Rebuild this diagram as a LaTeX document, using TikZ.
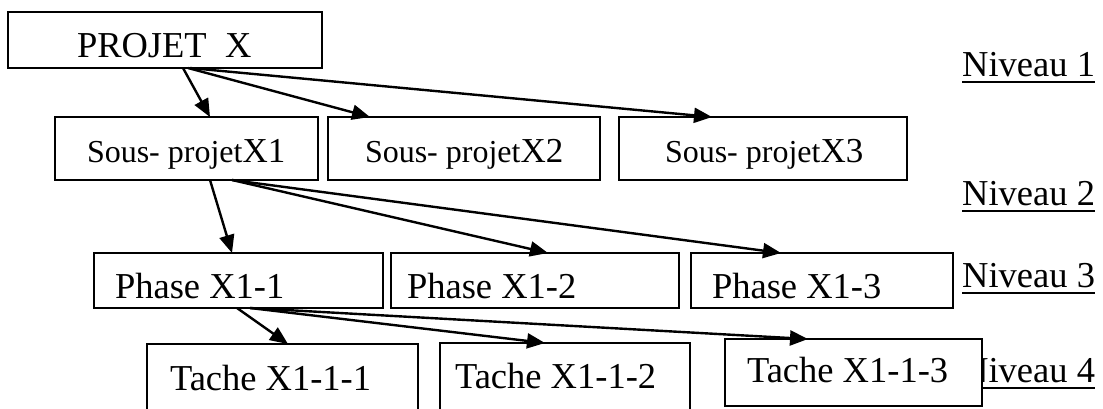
\documentclass[tikz,border=0pt]{standalone}
\usepackage{fontspec}
\setmainfont{Liberation Serif}
\usetikzlibrary{arrows.meta}
\newcommand{\bigf}{\fontsize{36.5pt}{40pt}\selectfont}
\newcommand{\smallf}{\fontsize{32pt}{36pt}\selectfont}
\newcommand{\midf}{\fontsize{35pt}{40pt}\selectfont}
\tikzset{
  box/.style={draw, line width=1.7pt, fill=white, rectangle, inner sep=0pt, outer sep=0pt, anchor=north west},
  txt/.style={inner sep=0pt, outer sep=0pt, anchor=base west, font=\bigf},
  lvl/.style={inner sep=0pt, outer sep=0pt, anchor=base east, font=\bigf},
  arr/.style={line width=2.4pt, -{Triangle[length=18pt,width=15pt]}},
  uline/.style={line width=1.9pt}
}
\begin{document}
\begin{tikzpicture}[x=1pt,y=1pt]
\clip (0,0) rectangle (1103,-408);
\fill[white] (0,0) rectangle (1103,-408);
% level labels
\node[lvl] (n1) at (1095,-76) {Niveau 1};
\node[lvl] (n2) at (1095,-205) {Niveau 2};
\node[lvl] (n3) at (1095,-287) {Niveau 3};
\node[lvl] (n4) at (1095,-382) {Niveau 4};
\foreach \n in {n1,n2,n3,n4}{
  \draw[uline] ([yshift=-6pt]\n.base west) -- ([yshift=-6pt]\n.base east);
}
% boxes
\node[box, minimum width=314pt, minimum height=56pt] (p) at (8,-12) {};
\node[box, minimum width=263pt, minimum height=63pt] (s1) at (55,-117) {};
\node[box, minimum width=272pt, minimum height=63pt] (s2) at (328,-117) {};
\node[box, minimum width=288pt, minimum height=63pt] (s3) at (619,-117) {};
\node[box, minimum width=289pt, minimum height=55pt] (f1) at (94,-253) {};
\node[box, minimum width=288pt, minimum height=55pt] (f2) at (391,-253) {};
\node[box, minimum width=262pt, minimum height=55pt] (f3) at (691,-253) {};
\node[box, minimum width=271pt, minimum height=80pt] (t1) at (147,-344) {};
\node[box, minimum width=250pt, minimum height=81pt] (t2) at (440,-343) {};
\node[box, minimum width=257pt, minimum height=67pt] (t3) at (725,-339) {};
% texts
\node[txt] (pt) at (77,-57) {PROJET\ \ X};
\node[txt] (s1t) at (87,-162) {\smallf Sous- projet\midf X1};
\node[txt] (s2t) at (365,-162) {\smallf Sous- projet\midf X2};
\node[txt] (s3t) at (665,-162) {\smallf Sous- projet\midf X3};
\node[txt] (f1t) at (115,-298) {Phase X1-1};
\node[txt] (f2t) at (407,-298) {Phase X1-2};
\node[txt] (f3t) at (712,-298) {Phase X1-3};
\node[txt] (t1t) at (170,-390) {Tache X1-1-1};
\node[txt] (t2t) at (455,-388) {Tache X1-1-2};
\node[txt] (t3t) at (747,-382) {Tache X1-1-3};
% connectors
\draw[arr] ([xshift=175pt]p.south west) -- ([xshift=155pt]s1.north west);
\draw[arr] ([xshift=180pt]p.south west) -- ([xshift=42pt]s2.north west);
\draw[arr] ([xshift=182pt]p.south west) -- ([xshift=93pt]s3.north west);
\draw[arr] ([xshift=155pt]s1.south west) -- ([xshift=138pt]f1.north west);
\draw[arr] ([xshift=177pt]s1.south west) -- ([xshift=157pt]f2.north west);
\draw[arr] ([xshift=177pt]s1.south west) -- ([xshift=90pt]f3.north west);
\draw[arr] ([xshift=143pt]f1.south west) -- ([xshift=141pt]t1.north west);
\draw[arr] ([xshift=156pt]f1.south west) -- ([xshift=105pt]t2.north west);
\draw[arr] ([xshift=156pt]f1.south west) -- ([xshift=83pt]t3.north west);
\end{tikzpicture}
\end{document}
